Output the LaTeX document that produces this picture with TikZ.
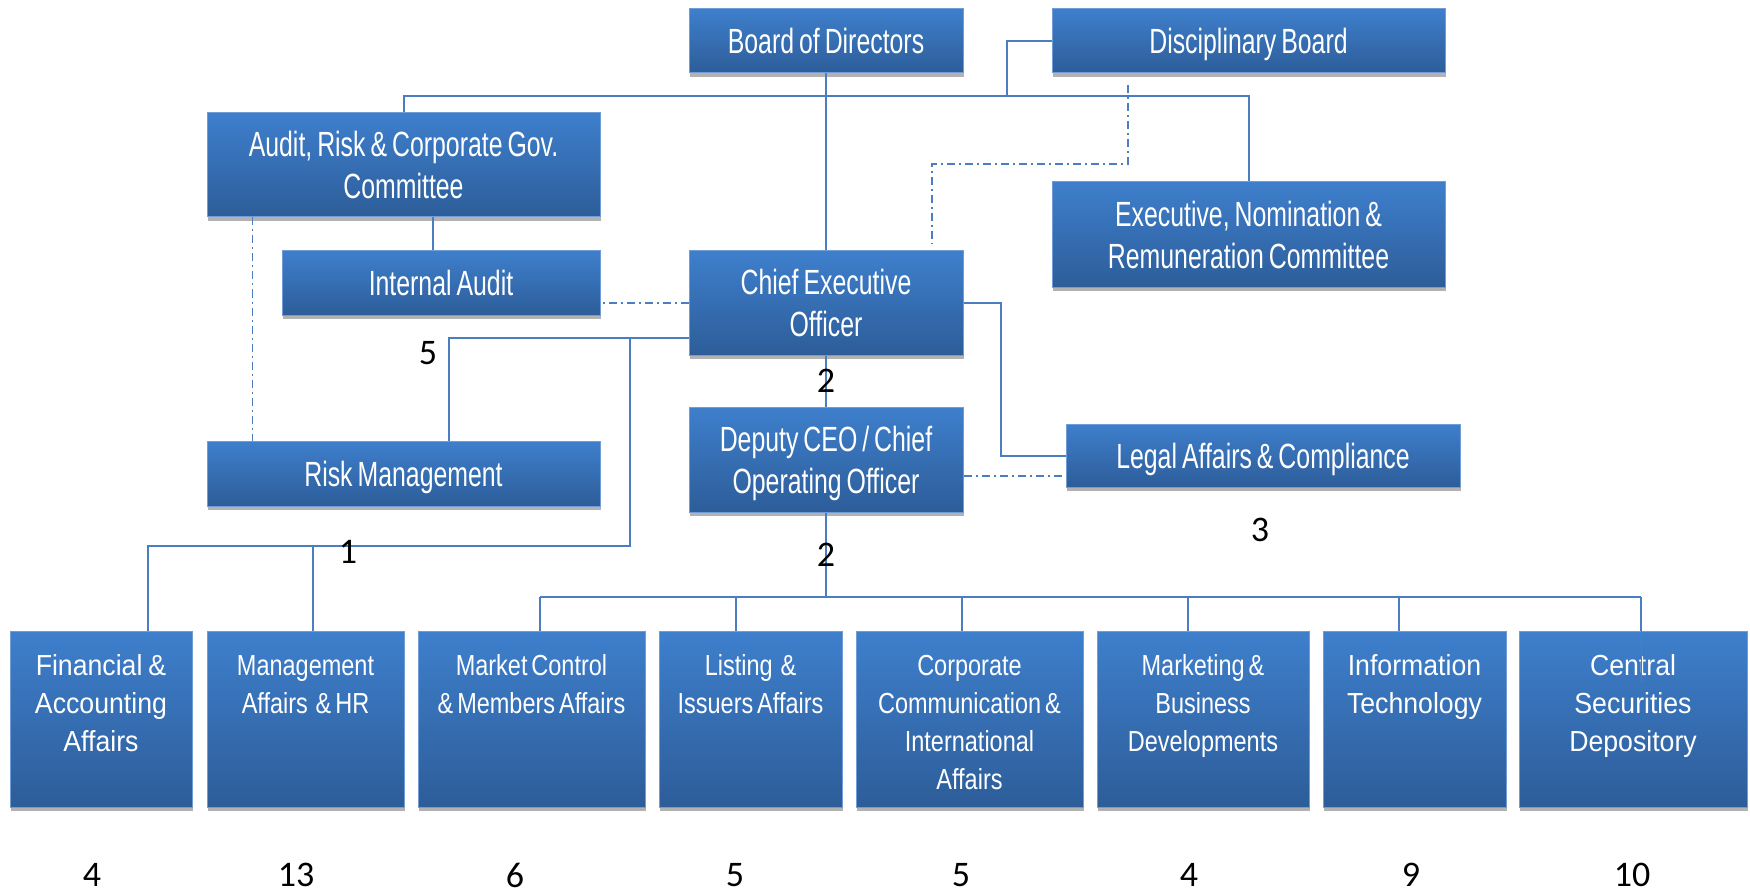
\documentclass[tikz,border=0pt]{standalone}
\usepackage{fontspec}
\setmainfont{Liberation Sans}
\newfontfamily\boxfont{Liberation Sans}[FakeStretch=0.71, WordSpace=0.72]
\newfontfamily\deptfont{Liberation Sans}[FakeStretch=0.81, WordSpace=0.6]
\newfontfamily\deptwide{Liberation Sans}[FakeStretch=0.92, WordSpace=0.8]
\newfontfamily\numfont{Carlito}
\usetikzlibrary{shadows}
\definecolor{boxtop}{RGB}{62,127,204}
\definecolor{boxbot}{RGB}{45,93,153}
\definecolor{boxedge}{RGB}{112,157,216}
\definecolor{linkblue}{RGB}{74,126,193}
\newcommand{\deptname}[1]{\parbox[c][88pt][t]{\linewidth}{\centering\spaceskip=0pt\xspaceskip=0pt\rule{0pt}{22pt}#1}}
\tikzset{
  unitbox/.style={draw=boxedge, line width=0.5pt, top color=boxtop, bottom color=boxbot,
    text=white, align=center, inner sep=0pt,
    drop shadow={shadow xshift=0.6pt, shadow yshift=-2pt, opacity=0.3, fill=black}},
  unit/.style={unitbox, text depth=0pt, font=\boxfont\fontsize{17.5}{21}\selectfont},
  dept/.style={unitbox, text width=#1, minimum width=#1, minimum height=88pt,
    font=\deptfont\fontsize{14.5}{19}\selectfont},
  widedept/.style={dept=#1, font=\deptwide\fontsize{14.5}{19}\selectfont},
  link/.style={linkblue, line width=1pt},
  dotlink/.style={linkblue, line width=0.7pt, dash pattern=on 4pt off 2pt on 1pt off 2pt},
  num/.style={font=\numfont\fontsize{18}{20}\selectfont, text=black, inner sep=0pt}
}
\begin{document}
\begin{tikzpicture}[x=0.5pt, y=-0.5pt]
\useasboundingbox (0,0) rectangle (1750,893);

% board level
\node[unit, minimum width=137pt, minimum height=32pt] (bod) at (826,41) {Board of Directors};
\node[unit, minimum width=196.5pt, minimum height=32pt] (disc) at (1248.5,41) {Disciplinary Board};
\node[unit, minimum width=196.5pt, minimum height=52pt] (arc) at (403.5,165) {Audit, Risk \& Corporate Gov.\\ Committee};
\node[unit, minimum width=196.5pt, minimum height=52.5pt] (enr) at (1248.5,234.5) {Executive, Nomination \&\\ Remuneration Committee};
\node[unit, minimum width=159pt, minimum height=32pt] (ia) at (441,283) {Internal Audit};
\node[unit, minimum width=137pt, minimum height=52pt] (ceo) at (826,303) {Chief Executive\\ Officer};
\node[unit, minimum width=196.5pt, minimum height=32.5pt] (rm) at (403.5,473.5) {Risk Management};
\node[unit, minimum width=137pt, minimum height=52.5pt] (dep) at (826,459.5) {Deputy CEO / Chief\\ Operating Officer};
\node[unit, minimum width=197pt, minimum height=31.5pt] (legal) at (1263,455.5) {Legal Affairs \& Compliance};

% departments
\node[widedept=91pt] (faa) at (101,719) {\deptname{Financial \&\\ Accounting\\ Affairs}};
\node[dept=98.5pt] (mahr) at (305.5,719) {\deptname{Management\\ Affairs \ \& HR}};
\node[dept=113.5pt] (mcma) at (531.5,719) {\deptname{Market Control\\ \& Members Affairs}};
\node[dept=91.5pt] (lia) at (750.5,719) {\deptname{Listing \ \&\\ Issuers Affairs}};
\node[dept=113.5pt] (cci) at (969.5,719) {\deptname{Corporate\\ Communication \&\\ International\\ Affairs}};
\node[dept=106pt] (mbd) at (1203,719) {\deptname{Marketing \&\\ Business\\ Developments}};
\node[widedept=91.5pt] (it) at (1414.5,719) {\deptname{Information\\ Technology}};
\node[widedept=114pt] (csd) at (1633,719) {\deptname{Central\\ Securities\\ Depository}};

% reporting lines
\coordinate (topbus) at (826,96);
\coordinate (discjoin) at (1007,96);
\draw[link] (bod) -- (ceo);
\draw[link] (arc.north) |- (topbus) -| (enr.north);
\draw[link] (disc.west) -| (discjoin);
\draw[link] ([xshift=-4pt]ia.north) -- ([xshift=-4pt]ia.north |- arc.south);
\draw[dotlink] ([xshift=23pt]arc.south west) -- ([xshift=23pt]rm.north west);
\draw[dotlink] (ceo.west) -- (ceo.west -| ia.east);

\coordinate (fork) at (630,338);
\coordinate (finbus) at (630,546);
\draw[link] ([yshift=-17.5pt]ceo.west) -| ([xshift=22.75pt]rm.north);
\draw[link] (fork) -- (finbus) -| ([xshift=23.5pt]faa.north);
\draw[link] ([xshift=3.75pt]mahr.north |- finbus) -- ([xshift=3.75pt]mahr.north);

\draw[link] (ceo) -- (dep) node[midway, num]{2};
\coordinate (opsbus) at (826,597);
\draw[link] (dep) -- (opsbus) node[midway, num]{2};
\draw[link] ([xshift=4.25pt]mcma.north |- opsbus) -- ([xshift=4pt]csd.north |- opsbus);
\foreach \n/\dx in {mcma/4.25, lia/-7.25, cci/-3.75, mbd/-7.5, it/-7.75, csd/4}
    \draw[link] ([xshift=\dx pt]\n.north |- opsbus) -- ([xshift=\dx pt]\n.north);
\draw[linkblue, line width=0.5pt] ([xshift=4pt]csd.north) -- ++(0,52);

\draw[link] (ceo.east) -- ++(18.5pt,0) |- (legal.west);
\draw[dotlink] ([yshift=-8.25pt]dep.east) -- ([yshift=-8.25pt]dep.east -| legal.west);
\coordinate (dbend) at (1128,164);
\draw[dotlink] ([xshift=-60.25pt,yshift=-6pt]disc.south) -- (dbend) -| ([xshift=53pt,yshift=3pt]ceo.north);

% head counts
\node[num] (n5) at (428,353) {5};
\node[num] (n1) at (348,552) {1};
\node[num] (n3) at (1260,530) {3};
\foreach \x/\v in {92/4, 296/13, 515/6, 735/5, 961/5, 1189/4, 1411/9, 1632/10}
    \node[num] at (\x,875) {\v};
\end{tikzpicture}
\end{document}
